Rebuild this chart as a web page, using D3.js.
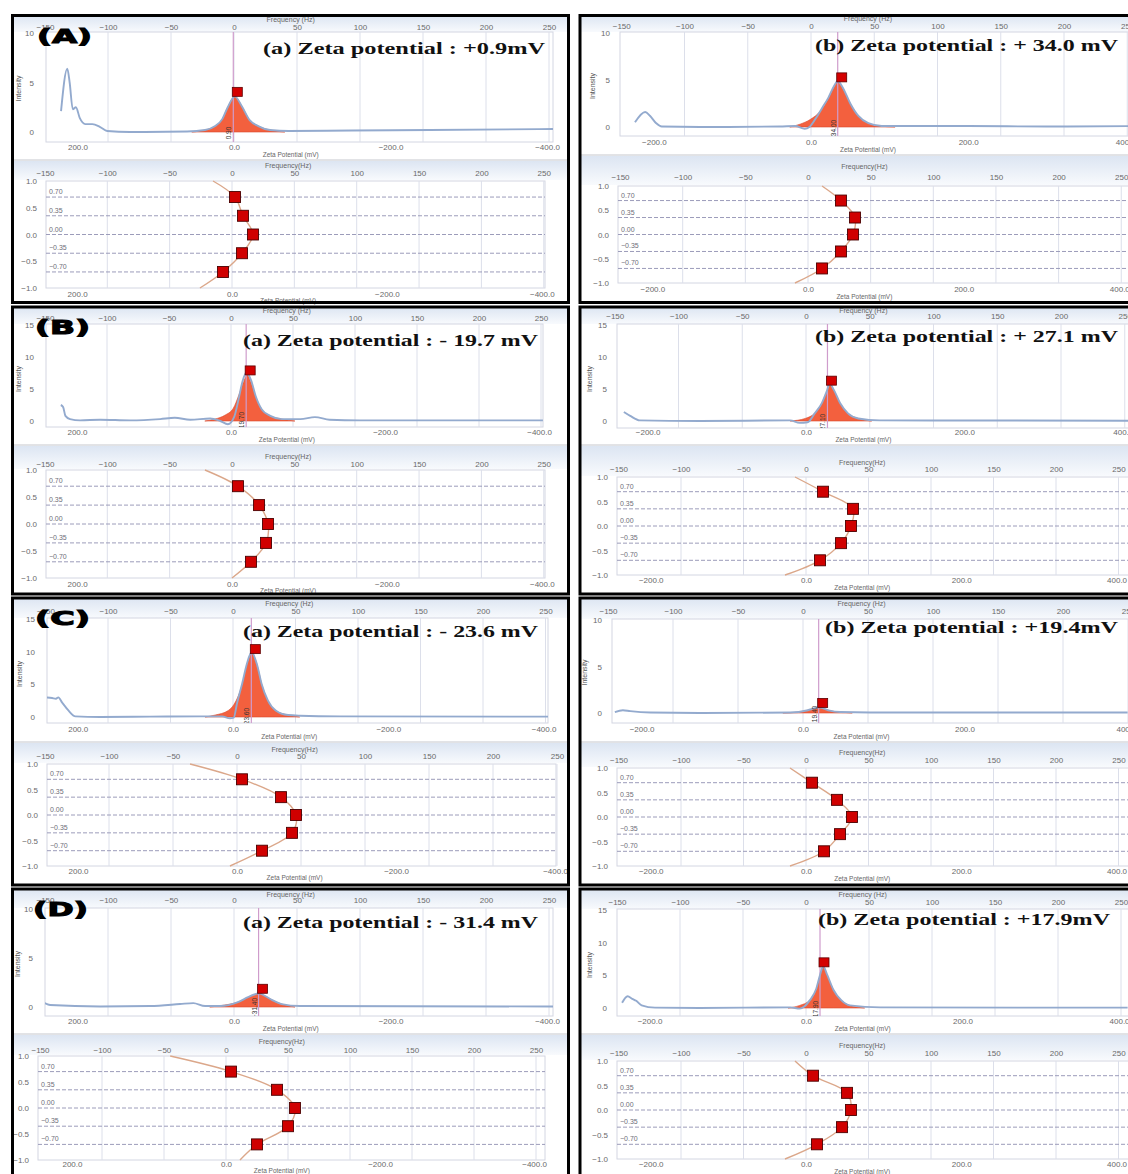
<!DOCTYPE html>
<html>
<head>
<meta charset="utf-8">
<style>
  body { margin: 0; background: #fff; }
  svg { display: block; font-family: "Liberation Sans", Arial, sans-serif; }
  .ax .domain { display: none; }
  .ax text { fill: #6a6a6a; font-size: 8px; }
</style>
</head>
<body>
<svg width="1128" height="1174"></svg>
<script src="https://cdn.jsdelivr.net/npm/d3@7/dist/d3.min.js"></script>
<script>

// ---- data ----
var rowLabels = ["(A)", "(B)", "(C)", "(D)"];
var titles = [
  "(a) Zeta potential : +0.9mV", "(b) Zeta potential : + 34.0 mV",
  "(a) Zeta potential : - 19.7 mV", "(b) Zeta potential : + 27.1 mV",
  "(a) Zeta potential : - 23.6 mV", "(b) Zeta potential : +19.4mV",
  "(a) Zeta potential : - 31.4 mV", "(b) Zeta potential : +17.9mV"
];
var zetaValues = [0.9, 34.0, -19.7, 27.1, -23.6, 19.4, -31.4, 17.9];
var intensityMax = [10, 10, 15, 15, 15, 10, 10, 15];
var freqTicks = [-150, -100, -50, 0, 50, 100, 150, 200, 250];
var zetaTicksLeft = [200, 0, -200, -400];
var zetaTicksRight = [-200, 0, 200, 400];
var phaseTicks = [1.0, 0.5, 0.0, -0.5, -1.0];
var phaseLevels = [0.70, 0.35, 0.00, -0.35, -0.70];

// intensity spectra: [zeta mV, intensity]
var blueAa = [[221,2.1],[213,6.4],[210,5.0],[206,2.3],[202,2.5],[197,1.4],[190,0.8],[181,0.8],[171,0.5],[162,0.1],[133,0],[60,0.05],[37,0.2],[24,0.6],[15,1.3],[8,2.5],[-1,3.6],[-10,2.6],[-20,1.2],[-31,0.6],[-46,0.2],[-70,0.1],[-150,0.15],[-250,0.2],[-408,0.3]];
var blueAb = [[-224,0.5],[-211,1.6],[-205,1.2],[-197,0.4],[-190,0.05],[-141,0],[-40,0.05],[-20,0.1],[-8,-0.2],[-2,0],[6,0.9],[14,2.0],[22,3.1],[29,4.3],[34,4.9],[41,4.1],[50,2.5],[60,1.2],[73,0.4],[90,0.1],[200,0.1],[300,0.05],[410,0.1]];
var blueBa = [[221,2.5],[218,2.2],[215,0.8],[209,0.3],[196,0.1],[170,0.2],[131,0.1],[92,0.3],[73,0.5],[53,0.2],[27,0.4],[14,0],[4,-0.5],[-4,0.6],[-10,3.5],[-15,6.2],[-20,7.6],[-26,6.4],[-32,3.9],[-40,1.8],[-51,0.8],[-66,0.3],[-90,0.3],[-109,0.6],[-128,0.2],[-167,0.1],[-405,0.1]];
var blueBb = [[-230,1.4],[-222,0.8],[-210,0.1],[-134,0],[-20,0.1],[-8,-0.3],[2,-0.2],[11,1.2],[20,2.8],[26,4.6],[30,5.8],[35,4.9],[43,2.8],[53,1.2],[66,0.4],[93,0.1],[407,0.05]];
var blueCa = [[240,3.0],[233,2.9],[228,2.8],[225,3.0],[220,2.2],[212,1.0],[203,0.1],[171,0],[107,0.05],[42,0.1],[14,0.1],[4,-0.2],[-1,-0.1],[-5,2.0],[-12,5.2],[-18,8.2],[-24,9.9],[-31,8.0],[-37,5.0],[-45,2.5],[-55,1.0],[-71,0.3],[-86,0.2],[-138,0.1],[-406,0.05]];
var blueCb = [[-233,0.1],[-223,0.3],[-214,0.2],[-189,0.05],[-128,0],[-16,0.05],[6,0.3],[14,0.5],[19,0.6],[25,0.5],[33,0.25],[46,0.1],[83,0.05],[402,0.05]];
var blueDa = [[242,0.4],[235,0.2],[171,0.05],[107,0.1],[69,0.3],[52,0.4],[37,0.1],[18,0.1],[-5,0.5],[-18,1.0],[-27,1.3],[-32,1.4],[-38,1.2],[-49,0.7],[-61,0.3],[-84,0.1],[-408,0.05]];
var blueDb = [[-235,0.8],[-228,1.8],[-222,1.4],[-217,1.1],[-210,0.4],[-193,0.05],[-136,0],[-20,0.1],[-8,-0.1],[5,1.2],[13,2.9],[18,5.1],[22,6.4],[27,5.1],[35,2.8],[45,1.2],[56,0.4],[95,0.1],[411,0.05]];

// fitted peak (red area): [zeta mV, intensity]
var peakAa = [[54,0],[37,0.2],[24,0.6],[15,1.3],[8,2.5],[-1,3.6],[-10,2.6],[-20,1.2],[-31,0.6],[-46,0.2],[-65,0]];
var peakAb = [[-27,0],[-14,0.3],[-1,0.8],[12,1.7],[22,3.0],[29,4.2],[34,4.8],[41,4.0],[50,2.5],[60,1.2],[73,0.4],[88,0.1],[107,0]];
var peakBa = [[34,0],[21,0.3],[8,0.9],[-3,2.0],[-10,4.0],[-16,6.0],[-21,7.2],[-26,6.0],[-32,3.8],[-40,1.8],[-51,0.8],[-66,0.3],[-83,0]];
var peakBb = [[-20,0],[-1,0.4],[11,1.2],[20,2.7],[26,4.5],[30,5.6],[35,4.8],[43,2.8],[53,1.2],[66,0.4],[83,0]];
var peakCa = [[36,0],[23,0.3],[6,1.0],[-4,2.5],[-12,5.0],[-18,8.0],[-24,9.7],[-31,8.0],[-37,5.0],[-45,2.5],[-55,1.0],[-71,0.3],[-86,0]];
var peakCb = [[-25,0],[-6,0.1],[6,0.3],[14,0.5],[19,0.6],[25,0.5],[33,0.25],[46,0.1],[61,0]];
var peakDa = [[31,0],[12,0.2],[-5,0.5],[-18,1.0],[-27,1.3],[-32,1.4],[-38,1.2],[-49,0.7],[-61,0.3],[-78,0]];
var peakDb = [[-23,0],[-8,0.4],[5,1.2],[13,2.8],[18,5.0],[22,6.3],[27,5.0],[35,2.8],[45,1.2],[56,0.4],[75,0]];

// phase plot: frequency (Hz) of the markers at phaseLevels, and curve ends at +1 / -1
var phaseAa = [2.4, 8.8, 16.8, 8.0, -7.2],   endsAa = [-15.2, -25.7];
var phaseAb = [26.3, 37.5, 35.9, 26.3, 11.2], endsAb = [11.2, -10.4];
var phaseBa = [4.8, 21.7, 28.9, 27.3, 15.2], endsBa = [-21.7, 0];
var phaseBb = [13.6, 37.6, 36.0, 28.0, 11.2], endsBb = [-8.8, -16.8];
var phaseCa = [3.9, 34.4, 46.1, 43.0, 19.5], endsCa = [-36.7, -5.5];
var phaseCb = [4.8, 24.8, 36.8, 27.2, 14.4], endsCb = [-12.8, -12.8];
var phaseDa = [4.0, 41.1, 55.6, 50.0, 25.0], endsDa = [-45, 11.3];
var phaseDb = [5.6, 32.8, 36.0, 28.8, 8.8], endsDb = [-8.8, -16.8];

var blueSeries = [blueAa, blueAb, blueBa, blueBb, blueCa, blueCb, blueDa, blueDb];
var peakSeries = [peakAa, peakAb, peakBa, peakBb, peakCa, peakCb, peakDa, peakDb];
var phaseSeries = [phaseAa, phaseAb, phaseBa, phaseBb, phaseCa, phaseCb, phaseDa, phaseDb];
var phaseEnds = [endsAa, endsAb, endsBa, endsBb, endsCa, endsCb, endsDa, endsDb];

// mV per Hz between the two axes
var ZF = 1.61;

// ---- where each screenshot sits on the page ----
var rowY = [15.5, 307, 598, 889];
var frames = [
  {side: -1, top: {L:46, R:553, T:33, Z:132, B:142, x0:234, k:1.26, ft:20, fl:27, zl:148, zt:155},
             bot: {L:46, R:545, T:181, B:288, x0:232, k:1.247, ft:166, fl:173, zl:295, zt:301}},
  {side: 1,  top: {L:620, R:1140, T:33, Z:127, B:136, x0:811, k:1.265, ft:19, fl:26, zl:143, zt:150},
             bot: {L:618, R:1140, T:186, B:283, x0:808, k:1.253, ft:167, fl:177, zl:290, zt:297}},
  {side: -1, top: {L:46, R:543, T:325, Z:421, B:427, x0:231, k:1.24, ft:311, fl:318, zl:433, zt:440},
             bot: {L:46, R:545, T:470, B:578, x0:232, k:1.247, ft:457, fl:464, zl:585, zt:591}},
  {side: 1,  top: {L:617, R:1140, T:325, Z:421, B:428, x0:806, k:1.275, ft:311, fl:316, zl:433, zt:440},
             bot: {L:617, R:1140, T:477, B:575, x0:806, k:1.25, ft:463, fl:469, zl:581, zt:588}},
  {side: -1, top: {L:47, R:548, T:619, Z:717, B:723, x0:233, k:1.25, ft:604, fl:611, zl:730, zt:737},
             bot: {L:47, R:556, T:764, B:866, x0:237, k:1.28, ft:750, fl:756, zl:872, zt:878}},
  {side: 1,  top: {L:612, R:1140, T:620, Z:713, B:723, x0:803, k:1.3, ft:604, fl:611, zl:730, zt:737},
             bot: {L:617, R:1140, T:768, B:866, x0:806, k:1.25, ft:753, fl:760, zl:872, zt:879}},
  {side: -1, top: {L:45, R:553, T:909, Z:1007, B:1016, x0:234, k:1.26, ft:895, fl:900, zl:1022, zt:1029},
             bot: {L:38, R:545, T:1056, B:1160, x0:226, k:1.24, ft:1042, fl:1050, zl:1165, zt:1171}},
  {side: 1,  top: {L:617, R:1140, T:910, Z:1008, B:1016, x0:806, k:1.26, ft:895, fl:902, zl:1022, zt:1029},
             bot: {L:617, R:1140, T:1061, B:1159, x0:806, k:1.25, ft:1046, fl:1053, zl:1165, zt:1172}}
];
var titleBox = [[263,54,282],[815,51,303],[243,346,295],[815,342,303],[243,637,295],[825,633,293],[243,928,295],[818,925,292]];
var rowLabelPos = [[37,43],[35,334],[35,625],[33,916]];

var svg = d3.select("svg");
var defs = svg.append("defs");
var grad = defs.append("linearGradient").attr("id", "hdr").attr("x1", 0).attr("x2", 0).attr("y1", 0).attr("y2", 1);
grad.append("stop").attr("offset", "0%").attr("stop-color", "#dce5f2");
grad.append("stop").attr("offset", "100%").attr("stop-color", "#f8fafd");

svg.append("rect").attr("width", 1128).attr("height", 1174).attr("fill", "#fff");

function freqScale(p) {
  return d3.scaleLinear().domain([-150, 250]).range([p.x0 - 150 * p.k, p.x0 + 250 * p.k]);
}
function zetaScale(p, side) {
  return d3.scaleLinear().domain([-150 * side * ZF, 250 * side * ZF]).range([p.x0 - 150 * p.k, p.x0 + 250 * p.k]);
}
function byPixel(arr, sx) {
  return arr.slice().sort(function(a, b) { return sx(a[0]) - sx(b[0]); });
}

frames.forEach(function(fr, i) {
  var col = i % 2, row = Math.floor(i / 2);
  var px = col ? 580 : 12.5, pw = col ? 570 : 556, py = rowY[row], ph = 287;
  var g = svg.append("g");
  var t = fr.top, b = fr.bot;

  // ---------- upper plot: intensity ----------
  g.append("rect").attr("x", px).attr("y", py).attr("width", pw).attr("height", t.T - py - 1)
    .attr("fill", "url(#hdr)");
  var fx = freqScale(t), zx = zetaScale(t, fr.side);
  var y = d3.scaleLinear().domain([0, intensityMax[i]]).range([t.Z, t.T]);

  g.append("rect").attr("x", t.L).attr("y", t.T - 1).attr("width", t.R - t.L).attr("height", t.B - t.T + 1)
    .attr("fill", "#fff").attr("stroke", "#d3d6e2");
  g.selectAll(null).data(freqTicks.filter(function(f) { return fx(f) > t.L + 3; })).enter().append("line")
    .attr("x1", fx).attr("x2", fx).attr("y1", t.T - 1).attr("y2", t.B)
    .attr("stroke", "#dcdfea");

  var clipId = "clipT" + i;
  defs.append("clipPath").attr("id", clipId).append("rect")
    .attr("x", t.L).attr("y", t.T - 1).attr("width", t.R - t.L).attr("height", t.B - t.T + 1);
  var pg = g.append("g").attr("clip-path", "url(#" + clipId + ")");

  var peak = byPixel(peakSeries[i], zx);
  pg.append("path").datum(peak)
    .attr("d", d3.area().x(function(d) { return zx(d[0]); }).y0(y(0)).y1(function(d) { return y(d[1]); })
      .curve(d3.curveMonotoneX))
    .attr("fill", "#f3603e").attr("stroke", "#d9482c").attr("stroke-width", 0.6);
  pg.append("line").attr("x1", zx(zetaValues[i])).attr("x2", zx(zetaValues[i]))
    .attr("y1", t.T - 1).attr("y2", t.B).attr("stroke", "#cf9ccc").attr("stroke-width", 1.2);
  pg.append("path").datum(byPixel(blueSeries[i], zx))
    .attr("d", d3.line().x(function(d) { return zx(d[0]); }).y(function(d) { return y(d[1]); })
      .curve(d3.curveMonotoneX))
    .attr("fill", "none").attr("stroke", "#93aace").attr("stroke-width", 1.9);
  pg.append("text")
    .attr("transform", "translate(" + (zx(zetaValues[i]) - 2) + "," + (t.Z + 1) + ") rotate(-90)")
    .attr("text-anchor", "middle").attr("font-size", 6.5).attr("fill", "#333")
    .text(d3.format(".2f")(zetaValues[i]));

  var pmax = d3.max(peakSeries[i], function(d) { return d[1]; });
  g.append("rect").attr("x", zx(zetaValues[i]) - 1).attr("y", y(pmax) - 9).attr("width", 10).attr("height", 9)
    .attr("fill", "#d40000").attr("stroke", "#5c0000").attr("stroke-width", 0.8);

  g.append("g").attr("class", "ax").attr("transform", "translate(0," + (t.fl + 3) + ")")
    .call(d3.axisTop(fx).tickValues(freqTicks).tickSize(0).tickPadding(0));
  g.append("text").attr("x", fx(45)).attr("y", t.ft + 2).attr("text-anchor", "middle")
    .attr("font-size", 7).attr("fill", "#666").text("Frequency (Hz)");
  g.append("g").attr("class", "ax").attr("transform", "translate(" + t.L + ",0)")
    .call(d3.axisLeft(y).tickValues(d3.range(0, intensityMax[i] + 1, 5)).tickSize(0).tickPadding(col ? 10 : 12));
  g.append("text").attr("transform", "translate(" + (t.L - 25) + "," + ((t.T + t.Z) / 2 + 6) + ") rotate(-90)")
    .attr("text-anchor", "middle").attr("font-size", 7).attr("fill", "#555").text("Intensity");
  g.append("g").attr("class", "ax").attr("transform", "translate(0," + (t.zl - 4) + ")")
    .call(d3.axisBottom(zx).tickValues(col ? zetaTicksRight : zetaTicksLeft).tickSize(0).tickPadding(0)
      .tickFormat(d3.format(".1f")));
  g.append("text").attr("x", fx(45)).attr("y", t.zt + 2).attr("text-anchor", "middle")
    .attr("font-size", 6.5).attr("fill", "#666").text("Zeta Potential (mV)");
  g.append("line").attr("x1", px).attr("x2", px + pw).attr("y1", t.zt + 5).attr("y2", t.zt + 5)
    .attr("stroke", "#c4c6cc");

  // ---------- lower plot: phase ----------
  g.append("rect").attr("x", px).attr("y", t.zt + 6).attr("width", pw).attr("height", b.T - t.zt - 7)
    .attr("fill", "url(#hdr)");
  var bx = freqScale(b), bz = zetaScale(b, fr.side);
  var yp = d3.scaleLinear().domain([-1, 1]).range([b.B, b.T]);

  g.append("rect").attr("x", b.L).attr("y", b.T).attr("width", b.R - b.L).attr("height", b.B - b.T)
    .attr("fill", "#fff").attr("stroke", "#d3d6e2");
  g.selectAll(null).data(freqTicks.filter(function(f) { return bx(f) > b.L + 3; })).enter().append("line")
    .attr("x1", bx).attr("x2", bx).attr("y1", b.T).attr("y2", b.B)
    .attr("stroke", "#dcdfea");

  var clipB = "clipB" + i;
  defs.append("clipPath").attr("id", clipB).append("rect")
    .attr("x", b.L).attr("y", b.T - 6).attr("width", b.R - b.L).attr("height", b.B - b.T + 12);
  var bg = g.append("g").attr("clip-path", "url(#" + clipB + ")");

  bg.selectAll(null).data(phaseLevels).enter().append("line")
    .attr("x1", b.L).attr("x2", b.R).attr("y1", yp).attr("y2", yp)
    .attr("stroke", "#9c9cba").attr("stroke-dasharray", "4,2");
  bg.selectAll(null).data(phaseLevels).enter().append("text")
    .attr("x", b.L + 3).attr("y", function(d) { return yp(d) - 3; })
    .attr("font-size", 7).attr("fill", "#6e6e78").text(d3.format(".2f"));

  var pts = [[phaseEnds[i][0], 1]]
    .concat(phaseSeries[i].map(function(f, j) { return [f, phaseLevels[j]]; }))
    .concat([[phaseEnds[i][1], -1]]);
  bg.append("path").datum(pts)
    .attr("d", d3.line().x(function(d) { return bx(d[0]); }).y(function(d) { return yp(d[1]); })
      .curve(d3.curveCatmullRom))
    .attr("fill", "none").attr("stroke", "#dba78a").attr("stroke-width", 1.4);
  bg.selectAll(null).data(pts.slice(1, 6)).enter().append("rect")
    .attr("x", function(d) { return bx(d[0]) - 5.5; }).attr("y", function(d) { return yp(d[1]) - 5.5; })
    .attr("width", 11).attr("height", 11)
    .attr("fill", "#d00000").attr("stroke", "#4a0000").attr("stroke-width", 0.9);

  g.append("g").attr("class", "ax").attr("transform", "translate(0," + (b.fl + 3) + ")")
    .call(d3.axisTop(bx).tickValues(freqTicks).tickSize(0).tickPadding(0));
  g.append("text").attr("x", bx(45)).attr("y", b.ft + 2).attr("text-anchor", "middle")
    .attr("font-size", 7).attr("fill", "#666").text("Frequency(Hz)");
  g.append("g").attr("class", "ax").attr("transform", "translate(" + b.L + ",0)")
    .call(d3.axisLeft(yp).tickValues(phaseTicks).tickSize(0).tickPadding(9).tickFormat(d3.format(".1f")));
  g.append("g").attr("class", "ax").attr("transform", "translate(0," + (b.zl - 4) + ")")
    .call(d3.axisBottom(bz).tickValues(col ? zetaTicksRight : zetaTicksLeft).tickSize(0).tickPadding(0)
      .tickFormat(d3.format(".1f")));
  g.append("text").attr("x", bx(45)).attr("y", b.zt + 2).attr("text-anchor", "middle")
    .attr("font-size", 6.5).attr("fill", "#666").text("Zeta Potential (mV)");

  // title and frame
  var tb = titleBox[i];
  g.append("text").attr("x", tb[0]).attr("y", tb[1]).attr("textLength", tb[2]).attr("lengthAdjust", "spacingAndGlyphs")
    .attr("font-family", "Liberation Serif, Times New Roman, serif").attr("font-weight", "bold")
    .attr("font-size", 17).attr("fill", "#111").text(titles[i]);

  g.append("rect").attr("x", px).attr("y", py).attr("width", pw).attr("height", ph)
    .attr("fill", "none").attr("stroke", "#000").attr("stroke-width", 3);

  if (col === 0) {
    var lp = rowLabelPos[row];
    g.append("text").attr("x", lp[0]).attr("y", lp[1]).attr("textLength", 55).attr("lengthAdjust", "spacingAndGlyphs")
      .attr("font-family", "DejaVu Sans, sans-serif").attr("font-weight", "bold").attr("font-size", 20)
      .attr("fill", "#000").attr("stroke", "#000").attr("stroke-width", 1.1).text(rowLabels[row]);
  }
});

</script>
</body>
</html>
